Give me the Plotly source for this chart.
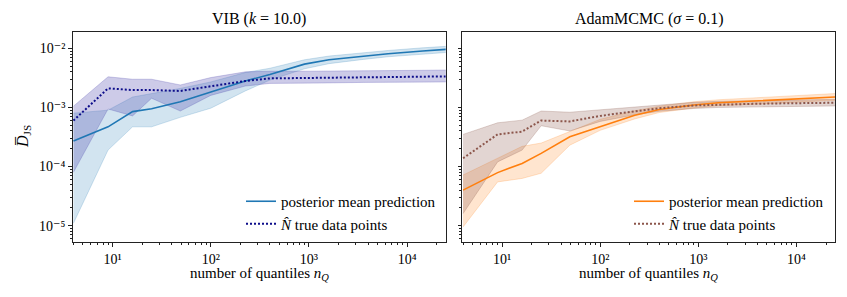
import math
import plotly.graph_objects as go

# ---------------- data ----------------
n_quantiles = [4, 9, 16, 25, 49, 100, 225, 400, 900, 1600, 3600, 6400, 14400, 25000]

vib_pred_mean = [2.7e-4, 4.7e-4, 8.5e-4, 9.5e-4, 1.25e-3, 1.8e-3, 2.8e-3, 3.6e-3, 5.4e-3, 6.4e-3, 7.4e-3, 8.1e-3, 9.0e-3, 9.6e-3]
vib_pred_lo = [1.1e-5, 1.9e-4, 4.7e-4, 4.7e-4, 6.8e-4, 9.7e-4, 1.9e-3, 2.9e-3, 4.5e-3, 5.5e-3, 6.5e-3, 7.2e-3, 8.0e-3, 8.5e-3]
vib_pred_hi = [8.0e-4, 9.0e-4, 1.5e-3, 1.7e-3, 2.1e-3, 2.7e-3, 3.9e-3, 4.6e-3, 6.4e-3, 7.4e-3, 8.5e-3, 9.2e-3, 1.02e-2, 1.08e-2]

vib_true_mean = [6.0e-4, 2.1e-3, 1.97e-3, 1.97e-3, 1.9e-3, 2.25e-3, 2.8e-3, 3.1e-3, 3.15e-3, 3.15e-3, 3.25e-3, 3.3e-3, 3.3e-3, 3.35e-3]
vib_true_lo = [8.0e-5, 9.4e-4, 7.2e-4, 1.43e-3, 8.7e-4, 1.6e-3, 2.3e-3, 2.55e-3, 2.6e-3, 2.6e-3, 2.65e-3, 2.65e-3, 2.7e-3, 2.7e-3]
vib_true_hi = [1.05e-3, 3.3e-3, 3.0e-3, 3.0e-3, 2.4e-3, 3.2e-3, 4.0e-3, 4.1e-3, 4.1e-3, 4.1e-3, 4.2e-3, 4.2e-3, 4.25e-3, 4.3e-3]

mcmc_pred_mean = [4.0e-5, 7.9e-5, 1.13e-4, 1.67e-4, 3.2e-4, 4.8e-4, 7.4e-4, 9.2e-4, 1.1e-3, 1.2e-3, 1.28e-3, 1.33e-3, 1.42e-3, 1.5e-3]
mcmc_pred_lo = [9.5e-6, 5.5e-5, 6.3e-5, 7.7e-5, 2.3e-4, 4.1e-4, 6.4e-4, 8.2e-4, 9.8e-4, 1.07e-3, 1.13e-3, 1.18e-3, 1.25e-3, 1.32e-3]
mcmc_pred_hi = [7.2e-5, 1.4e-4, 2.2e-4, 2.5e-4, 3.9e-4, 6.3e-4, 8.8e-4, 1.05e-3, 1.25e-3, 1.35e-3, 1.45e-3, 1.52e-3, 1.62e-3, 1.72e-3]

mcmc_true_mean = [1.38e-4, 3.5e-4, 3.9e-4, 6.0e-4, 5.8e-4, 7.2e-4, 8.6e-4, 9.7e-4, 1.08e-3, 1.12e-3, 1.15e-3, 1.17e-3, 1.18e-3, 1.2e-3]
mcmc_true_lo = [1.6e-5, 1.2e-4, 1.9e-4, 4.9e-4, 4.0e-4, 5.8e-4, 7.5e-4, 8.6e-4, 9.6e-4, 1.0e-3, 1.02e-3, 1.04e-3, 1.05e-3, 1.06e-3]
mcmc_true_hi = [3.5e-4, 5.5e-4, 6.1e-4, 8.7e-4, 8.3e-4, 9.1e-4, 1.0e-3, 1.1e-3, 1.22e-3, 1.27e-3, 1.3e-3, 1.32e-3, 1.35e-3, 1.37e-3]

x_tick_vals = [10, 100, 1000, 10000]
x_tick_text = ["10\u00b9", "10\u00b2", "10\u00b3", "10\u2074"]
y_tick_vals = [1e-5, 1e-4, 1e-3, 1e-2]
y_tick_text = ["10\u207b\u2075", "10\u207b\u2074", "10\u207b\u00b3", "10\u207b\u00b2"]

label_pred = "posterior mean prediction"
label_true = "<i>N\u0302</i> true data points"

# ---------------- style ----------------
FONT = "Liberation Serif, DejaVu Serif, serif"
C_BLUE = "#1f77b4"
C_NAVY = "#0d0d8a"
C_ORANGE = "#ff7f0e"
C_BROWN = "#8c564b"

W, H = 847, 297
def px_x(p):
    return p / W
def px_y(p):
    return 1 - p / H

fig = go.Figure()

def add_band(x, lo, hi, fill, edge, xa, ya):
    fig.add_trace(go.Scatter(
        x=list(x) + list(x)[::-1], y=list(hi) + list(lo)[::-1],
        mode="lines", fill="toself", fillcolor=fill,
        line=dict(color=edge, width=0.8), hoverinfo="skip",
        showlegend=False, xaxis=xa, yaxis=ya))

def add_line(x, y, color, dash, width, name, xa, ya, legend):
    fig.add_trace(go.Scatter(
        x=x, y=y, mode="lines", name=name,
        line=dict(color=color, dash=dash, width=width),
        xaxis=xa, yaxis=ya, legend=legend, showlegend=True))

# left panel
add_band(n_quantiles, vib_pred_lo, vib_pred_hi, "rgba(31,119,180,0.2)", "rgba(31,119,180,0.25)", "x", "y")
add_band(n_quantiles, vib_true_lo, vib_true_hi, "rgba(72,61,170,0.27)", "rgba(72,61,170,0.3)", "x", "y")
add_line(n_quantiles, vib_pred_mean, C_BLUE, "solid", 1.6, label_pred, "x", "y", "legend")
add_line(n_quantiles, vib_true_mean, C_NAVY, "2px,2px", 2.0, label_true, "x", "y", "legend")

# right panel
add_band(n_quantiles, mcmc_pred_lo, mcmc_pred_hi, "rgba(255,127,14,0.2)", "rgba(255,127,14,0.25)", "x2", "y2")
add_band(n_quantiles, mcmc_true_lo, mcmc_true_hi, "rgba(140,86,75,0.25)", "rgba(140,86,75,0.3)", "x2", "y2")
add_line(n_quantiles, mcmc_pred_mean, C_ORANGE, "solid", 1.6, label_pred, "x2", "y2", "legend2")
add_line(n_quantiles, mcmc_true_mean, C_BROWN, "2px,2px", 2.0, label_true, "x2", "y2", "legend2")

# minor tick positions
x_minor = [m * 10 ** e for e in range(0, 5) for m in range(2, 10)]
y_minor = [m * 10 ** e for e in range(-6, -1) for m in range(2, 10)]

axis_common = dict(
    type="log", showgrid=False, zeroline=False, showline=True, mirror=True,
    linecolor="#222", linewidth=1, ticks="outside", ticklen=3.5, tickwidth=0.8,
    tickcolor="#222", tickfont=dict(family=FONT, size=14, color="black"),
)
minor_common = dict(ticks="outside", ticklen=2, tickwidth=0.6, tickcolor="#222", tickmode="array")
xr = [math.log10(3.93), math.log10(24700)]
yr = [-5.281, -1.729]
y_dom = [px_y(242.3), px_y(32.3)]
legend_font = dict(family=FONT, size=15, color="black")

fig.update_layout(
    width=W, height=H, margin=dict(l=0, r=0, t=0, b=0),
    paper_bgcolor="white", plot_bgcolor="white",
    font=dict(family=FONT, size=13, color="black"),
    xaxis=dict(axis_common, domain=[px_x(72.7), px_x(445.7)], range=xr, anchor="y",
               tickmode="array", tickvals=x_tick_vals, ticktext=x_tick_text,
               minor=dict(minor_common, tickvals=x_minor)),
    yaxis=dict(axis_common, domain=y_dom, range=yr, anchor="x",
               tickmode="array", tickvals=y_tick_vals, ticktext=y_tick_text,
               minor=dict(minor_common, tickvals=y_minor)),
    xaxis2=dict(axis_common, domain=[px_x(462.3), px_x(835)], range=xr, anchor="y2",
                tickmode="array", tickvals=x_tick_vals, ticktext=x_tick_text,
                minor=dict(minor_common, tickvals=x_minor)),
    yaxis2=dict(axis_common, domain=y_dom, range=yr, anchor="x2", showticklabels=False,
                tickmode="array", tickvals=y_tick_vals, ticktext=y_tick_text,
                minor=dict(minor_common, tickvals=y_minor)),
    legend=dict(x=px_x(241), y=px_y(185), xanchor="left", yanchor="top",
                bgcolor="rgba(0,0,0,0)", borderwidth=0, itemwidth=30, tracegroupgap=0,
                font=legend_font),
    legend2=dict(x=px_x(629), y=px_y(185), xanchor="left", yanchor="top",
                 bgcolor="rgba(0,0,0,0)", borderwidth=0, itemwidth=30, tracegroupgap=0,
                 font=legend_font),
    showlegend=True,
)

annots = [
    dict(text="VIB (<i>k</i> = 10.0)", x=px_x(259), y=px_y(19.5), size=16, angle=0),
    dict(text="AdamMCMC (<i>\u03c3</i> = 0.1)", x=px_x(648.7), y=px_y(19.5), size=16, angle=0),
    dict(text="number of quantiles <i>n</i><sub><i>Q</i></sub>", x=px_x(259), y=px_y(274), size=15, angle=0),
    dict(text="number of quantiles <i>n</i><sub><i>Q</i></sub>", x=px_x(648.7), y=px_y(274), size=15, angle=0),
    dict(text="<i>D\u0305</i><sub>JS</sub>", x=px_x(23), y=px_y(137), size=16, angle=-90),
]
for a in annots:
    fig.add_annotation(text=a["text"], x=a["x"], y=a["y"], xref="paper", yref="paper",
                       xanchor="center", yanchor="middle", showarrow=False,
                       textangle=a["angle"], font=dict(family=FONT, size=a["size"], color="black"))

fig.write_html("out.html", config={"displayModeBar": False},
               post_script="document.body.style.margin='0';document.body.style.padding='0';document.body.style.overflow='hidden';")
